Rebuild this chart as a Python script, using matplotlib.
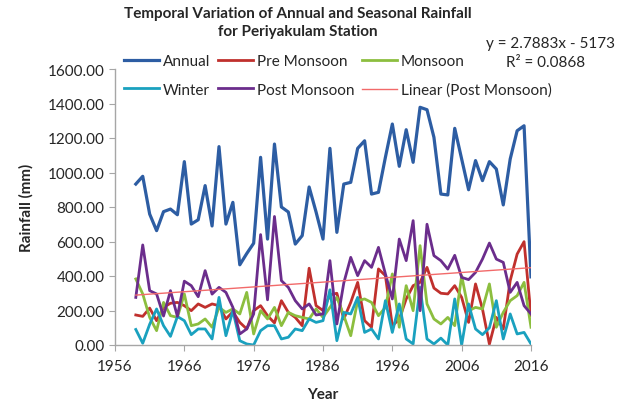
import numpy as np
import matplotlib
matplotlib.use('Agg')
import matplotlib.pyplot as plt

# Datos (mm)
years = list(range(1959, 2017))

annual = [933, 978, 759, 663, 773, 788, 755, 1063, 701, 726,
          924, 690, 1150, 701, 827, 465, 530, 590, 1088, 614,
          1165, 800, 771, 585, 634, 916, 771, 614, 1140, 653,
          933, 943, 1140, 1184, 875, 885, 1088, 1281, 1036, 1248,
          1059, 1378, 1364, 1204, 875, 870, 1256, 1078, 900, 1069,
          953, 1063, 1020, 812, 1078, 1242, 1271, 395]

pre_monsoon = [174, 166, 214, 141, 218, 242, 247, 228, 199, 238,
               218, 238, 228, 151, 193, 131, 93, 199, 228, 170,
               128, 257, 189, 160, 112, 445, 228, 200, 290, 300,
               151, 247, 363, 141, 103, 441, 402, 112, 149, 267,
               344, 363, 450, 330, 300, 296, 344, 276, 131, 354,
               209, 5, 160, 93, 373, 527, 599, 170]

monsoon = [383, 296, 160, 83, 247, 170, 160, 296, 112, 122,
           151, 103, 218, 189, 209, 180, 305, 64, 199, 151,
           218, 112, 189, 170, 160, 151, 209, 160, 218, 276,
           170, 54, 257, 267, 247, 170, 218, 412, 103, 344,
           199, 576, 238, 151, 122, 160, 112, 402, 199, 218,
           209, 354, 103, 189, 257, 286, 363, 103]

winter = [90, 10, 120, 209, 112, 50, 165, 141, 60, 93,
          93, 35, 276, 54, 199, 25, 6, 0, 83, 112,
          112, 35, 45, 93, 83, 151, 131, 141, 320, 25,
          189, 180, 276, 73, 93, 35, 257, 73, 238, 35,
          6, 334, 35, 6, 40, 0, 267, 0, 238, 93,
          60, 100, 257, 35, 180, 64, 73, 6]

post_monsoon = [276, 580, 315, 296, 168, 315, 166, 370, 344, 280,
                431, 295, 334, 305, 218, 64, 93, 180, 640, 262,
                745, 373, 334, 257, 209, 238, 174, 180, 489, 122,
                360, 508, 402, 489, 450, 566, 412, 267, 614, 489,
                721, 199, 700, 518, 489, 440, 520, 392, 379, 421,
                498, 591, 498, 479, 305, 363, 228, 180]

# Tendencia lineal mostrada en el grafico (Post Monsoon)
trend_slope = 2.7883
trend_intercept = -5173

x_ticks = [1956, 1966, 1976, 1986, 1996, 2006, 2016]
y_ticks = [0, 200, 400, 600, 800, 1000, 1200, 1400, 1600]

plt.rcParams['font.family'] = ['Lato', 'DejaVu Sans']

fig = plt.figure(figsize=(6.17, 4.06), dpi=100)
ax = fig.add_axes([115 / 617, 60 / 406, 416 / 617, 276 / 406])

yrs = np.array(years)
h_annual, = ax.plot(yrs, annual, color='#2D5DA3', lw=2.3, label='Annual')
h_pre, = ax.plot(yrs, pre_monsoon, color='#C0302D', lw=2.0, label='Pre Monsoon')
h_mon, = ax.plot(yrs, monsoon, color='#8CBE3F', lw=2.0, label='Monsoon')
h_win, = ax.plot(yrs, winter, color='#1AA1BF', lw=2.0, label='Winter')
h_post, = ax.plot(yrs, post_monsoon, color='#6B2D8C', lw=2.0, label='Post Monsoon')
h_lin, = ax.plot(yrs, trend_slope * yrs + trend_intercept, color='#F26A6A',
                 lw=1.0, label='Linear (Post Monsoon)')

ax.set_xlim(1956, 2016)
ax.set_ylim(0, 1600)
ax.set_xticks(x_ticks)
ax.set_yticks(y_ticks)
ax.set_yticklabels([f'{v:.2f}' for v in y_ticks])

for s in ['top', 'right']:
    ax.spines[s].set_visible(False)
for s in ['left', 'bottom']:
    ax.spines[s].set_color('#A6A6A6')
    ax.spines[s].set_linewidth(1.0)
ax.tick_params(colors='#A6A6A6', length=4, labelsize=11, labelcolor='#262626')
ax.tick_params(axis='x', pad=6)

ax.set_xlabel('Year', fontsize=11, fontweight='bold', color='#262626', labelpad=10)
ax.set_ylabel('Rainfall (mm)', fontsize=11, fontweight='bold', color='#262626', labelpad=10)

fig.text(298 / 617, 1 - 7 / 406,
         'Temporal Variation of Annual and Seasonal Rainfall\nfor Periyakulam Station',
         ha='center', va='top', fontsize=11, fontweight='bold', color='#262626',
         linespacing=1.35)

fig.text(551 / 617, 1 - 44 / 406, 'y = 2.7883x - 5173', ha='center', va='center',
         fontsize=11, color='#262626')
fig.text(546 / 617, 1 - 63 / 406, 'R² = 0.0868', ha='center', va='center',
         fontsize=11, color='#262626')

# orden por columnas para que las filas queden como en el original
handles = [h_annual, h_win, h_pre, h_post, h_mon, h_lin]
fig.legend(handles, [h.get_label() for h in handles], ncol=3, loc='upper left',
           bbox_to_anchor=(124 / 617, 1 - 55 / 406), frameon=False, fontsize=11,
           handlelength=2.3, handletextpad=0.25, columnspacing=0.5,
           labelspacing=0.95, borderaxespad=0, borderpad=0, labelcolor='#262626')

plt.savefig('out.png', dpi=100)
